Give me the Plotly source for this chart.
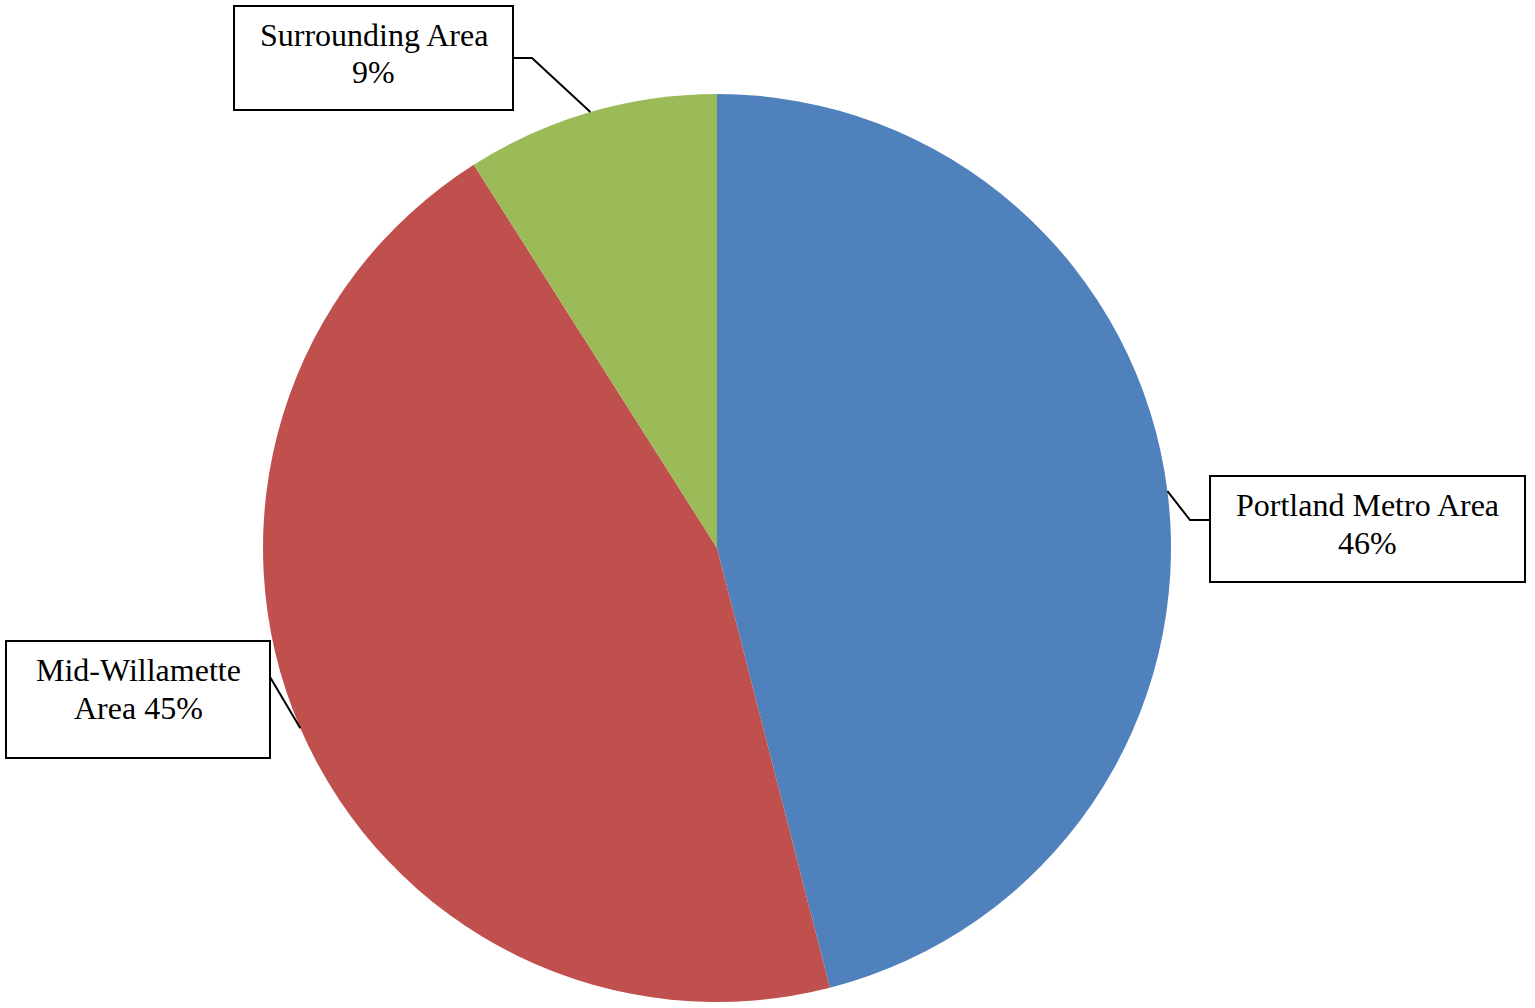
import math
import plotly.graph_objects as go

# Data
categories = ["Portland Metro Area", "Mid-Willamette Area", "Surrounding Area"]
values = [46, 45, 9]
colors = ["#4F81BD", "#C0504D", "#9BBB59"]
label_lines = [
    ["Portland Metro Area", "46%"],
    ["Mid-Willamette", "Area 45%"],
    ["Surrounding Area", "9%"],
]

W, H = 1535, 1008
CX, CY, R = 717, 548, 454

def px(x):
    return x / W

def py(y):
    return 1 - y / H

fig = go.Figure(go.Pie(
    labels=categories,
    values=values,
    marker=dict(colors=colors, line=dict(width=0)),
    sort=False,
    direction="clockwise",
    rotation=0,
    textinfo="none",
    hoverinfo="label+percent",
    showlegend=False,
    domain=dict(x=[px(CX - R), px(CX + R)], y=[py(CY + R), py(CY - R)]),
))

# label boxes: (x0, y0, x1, y1) in pixels
boxes = [
    (1210, 476, 1525, 582),
    (6, 641, 270, 758),
    (234, 6, 513, 110),
]
# elbow points of leader lines (pixels) after the pie-edge point
elbows = [
    [(1190, 520), (1209, 520)],
    [(270, 677)],
    [(532, 58), (514, 58)],
]

total = sum(values)
cum = 0
shapes = []
annotations = []
font = dict(family="Liberation Serif, Times New Roman, serif", size=32, color="black")
for i, v in enumerate(values):
    mid = (cum + v / 2) / total * 2 * math.pi
    cum += v
    ex = CX + R * math.sin(mid)
    ey = CY - R * math.cos(mid)
    pts = [(ex, ey)] + elbows[i]
    path = "M " + " L ".join(f"{px(a):.5f},{py(b):.5f}" for a, b in pts)
    shapes.append(dict(type="path", xref="paper", yref="paper", path=path,
                       line=dict(color="black", width=2)))
    x0, y0, x1, y1 = boxes[i]
    shapes.append(dict(type="rect", xref="paper", yref="paper",
                       x0=px(x0), x1=px(x1), y0=py(y0), y1=py(y1),
                       line=dict(color="black", width=2), fillcolor="white"))
    for j, line in enumerate(label_lines[i]):
        annotations.append(dict(
            xref="paper", yref="paper", x=px((x0 + x1) / 2), y=py(y0 + 29 + 37.5 * j),
            xanchor="center", yanchor="middle",
            text=line, showarrow=False, font=font,
        ))

fig.update_layout(
    width=W, height=H,
    margin=dict(l=0, r=0, t=0, b=0),
    paper_bgcolor="white",
    plot_bgcolor="white",
    shapes=shapes,
    annotations=annotations,
)

fig.write_html("out.html", config={"displayModeBar": False},
               post_script="document.body.style.margin='0';")
